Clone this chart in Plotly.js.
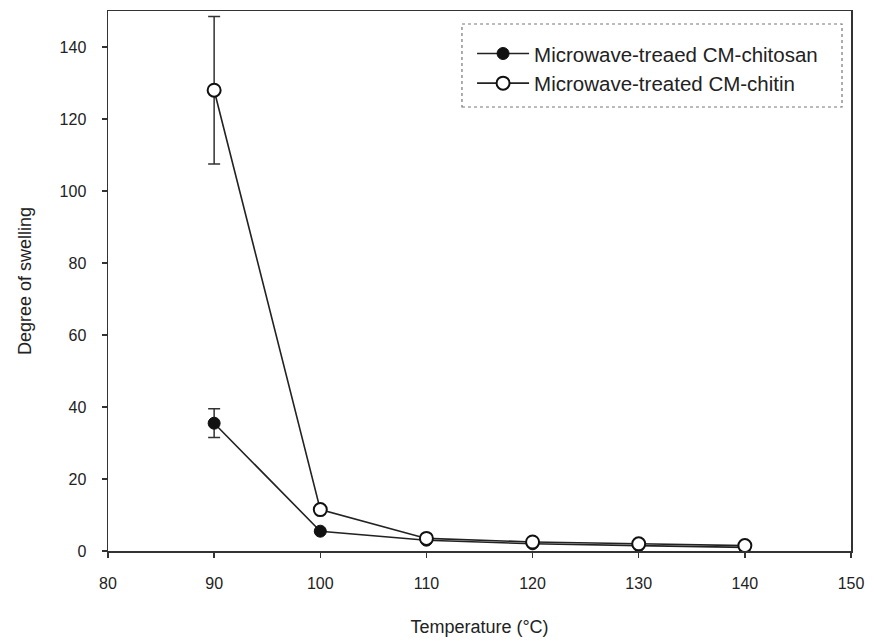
<!DOCTYPE html>
<html>
<head>
<meta charset="utf-8">
<script src="https://cdn.plot.ly/plotly-3.0.1.min.js"></script>
<style>html,body{margin:0;padding:0;background:#fff;}#chart{width:872px;height:642px;}</style>
</head>
<body>
<div id="chart"></div>
<script>
const temperature = [90, 100, 110, 120, 130, 140];
const chitosanSwelling = [35.5, 5.5, 3.0, 2.0, 1.5, 1.0];
const chitosanError = [4.0, 0, 0, 0, 0, 0];
const chitinSwelling = [128.0, 11.5, 3.5, 2.5, 2.0, 1.5];
const chitinError = [20.5, 0, 0, 0, 0, 0];
const seriesNames = ["Microwave-treaed CM-chitosan", "Microwave-treated CM-chitin"];
const xTicks = [80, 90, 100, 110, 120, 130, 140, 150];
const yTicks = [0, 20, 40, 60, 80, 100, 120, 140];

const traces = [
  {
    x: temperature, y: chitosanSwelling, name: seriesNames[0],
    type: 'scatter', mode: 'lines+markers',
    line: {color: '#222', width: 1.6},
    marker: {symbol: 'circle', size: 12, color: '#111', line: {color: '#111', width: 1}},
    error_y: {type: 'data', array: chitosanError, visible: true, color: '#333', thickness: 1.5, width: 6}
  },
  {
    x: temperature, y: chitinSwelling, name: seriesNames[1],
    type: 'scatter', mode: 'lines+markers',
    line: {color: '#222', width: 1.6},
    marker: {symbol: 'circle', size: 13, color: '#fff', line: {color: '#111', width: 2}},
    error_y: {type: 'data', array: chitinError, visible: true, color: '#333', thickness: 1.5, width: 6}
  }
];

const layout = {
  width: 872, height: 642,
  margin: {l: 108, r: 21, t: 11, b: 91},
  paper_bgcolor: '#fff', plot_bgcolor: '#fff',
  font: {family: 'Arial, Liberation Sans, sans-serif', color: '#222', size: 16},
  showlegend: true,
  legend: {
    x: 0.490, y: 0.958, xanchor: 'left', yanchor: 'top',
    borderwidth: 0, bgcolor: 'rgba(0,0,0,0)',
    font: {size: 20.5, color: '#222'}, tracegroupgap: 0, itemwidth: 52
  },
  shapes: [{
    type: 'rect', xref: 'paper', yref: 'paper',
    x0: 0.4764, x1: 0.9879, y0: 0.8222, y1: 0.9759,
    line: {color: '#777', width: 1.2, dash: 'dot'}, fillcolor: 'rgba(0,0,0,0)'
  }],
  xaxis: {
    range: [80, 150], tickvals: xTicks, ticktext: xTicks.map(String),
    showgrid: false, zeroline: false,
    showline: true, linecolor: '#333', linewidth: 1.5, mirror: true,
    ticks: 'outside', ticklen: 5, tickcolor: '#333', tickwidth: 1.5,
    tickfont: {size: 16}, ticklabelstandoff: 12,
    title: {text: 'Temperature (°C)', font: {size: 18}, standoff: 29}
  },
  yaxis: {
    range: [0, 150], tickvals: yTicks, ticktext: yTicks.map(String),
    showgrid: false, zeroline: false,
    showline: true, linecolor: '#333', linewidth: 1.5, mirror: true,
    ticks: 'outside', ticklen: 5, tickcolor: '#333', tickwidth: 1.5,
    tickfont: {size: 16}, ticklabelstandoff: 12,
    title: {text: 'Degree of swelling', font: {size: 18}, standoff: 23}
  }
};

Plotly.newPlot('chart', traces, layout, {displayModeBar: false, staticPlot: true});
</script>
</body>
</html>
